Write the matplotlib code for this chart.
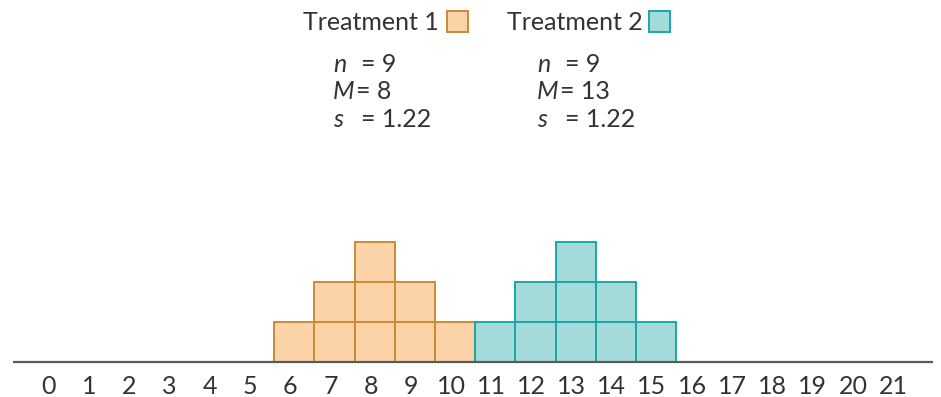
import matplotlib
matplotlib.use("Agg")
import matplotlib.pyplot as plt
from matplotlib.patches import Rectangle
import numpy as np

# score scale and the individual scores in each treatment
score_ticks = list(range(0, 22))
treatment1_scores = [6, 7, 7, 8, 8, 8, 9, 9, 10]
treatment2_scores = [11, 12, 12, 13, 13, 13, 14, 14, 15]
group_names = ["Treatment 1", "Treatment 2"]

fill_colors = ["#fcd3a8", "#a5dadb"]
edge_colors = ["#c98b34", "#1aa6a9"]
text_color = "#333333"

plt.rcParams["font.family"] = ["Lato", "DejaVu Sans"]
FS = 18

fig = plt.figure(figsize=(9.41, 3.97), dpi=100)
ax = fig.add_axes([0, 0, 1, 1])

# pixel -> data mapping: one score unit is ~40 px, baseline at y=362 px
ax.set_xlim((0 - 53) / 40.2, (941 - 53) / 40.2)
ax.set_ylim((362 - 397) / 40.0, 362 / 40.0)
ax.axis("off")


def stack_boxes(scores, fc, ec):
    """Draw one box per score, stacked above its value on the scale."""
    values, counts = np.unique(scores, return_counts=True)
    for level in range(counts.max()):
        mask = counts > level
        ax.bar(values[mask], 1, width=1, bottom=level, color=fc,
               edgecolor=ec, linewidth=1.4, zorder=2)


for scores, fc, ec in zip([treatment1_scores, treatment2_scores], fill_colors, edge_colors):
    stack_boxes(scores, fc, ec)

# baseline of the scale
ax.plot([-0.99, 21.9], [0, 0], color="#5a5a5a", linewidth=1.6, zorder=3,
        solid_capstyle="butt")

for t in score_ticks:
    ax.text(t - 0.1, -0.6, str(t), ha="center", va="center", fontsize=FS,
            color=text_color)

# group headers with colour keys and summary statistics
header_x = [(303 - 53) / 40.2, (507 - 53) / 40.2]
key_x = [(447 - 53) / 40.2, (649 - 53) / 40.2]
stat_x = [(333 - 53) / 40.2, (537 - 53) / 40.2]
for i, scores in enumerate([treatment1_scores, treatment2_scores]):
    ax.text(header_x[i], (362 - 22) / 40.0, group_names[i], ha="left",
            va="center", fontsize=FS, color=text_color)
    ax.add_patch(Rectangle((key_x[i], (362 - 32) / 40.0), 21 / 40.2, 21 / 40.0,
                           facecolor=fill_colors[i], edgecolor=edge_colors[i],
                           linewidth=1.4))
    n = len(scores)
    mean = np.mean(scores)
    sd = np.std(scores, ddof=1)
    rows = [("n", f"{n}", 0), ("M", f"{mean:g}", -0.12), ("s", f"{sd:.2f}", 0)]
    for j, (sym, val, shift) in enumerate(rows):
        y = (362 - (64 + 27.5 * j)) / 40.0
        ax.text(stat_x[i], y, sym, ha="left", va="center", fontsize=FS,
                style="italic", color=text_color)
        ax.text(stat_x[i] + 0.7 + shift, y, f"= {val}", ha="left",
                va="center", fontsize=FS, color=text_color)

fig.savefig("out.png", dpi=100, facecolor="white")
